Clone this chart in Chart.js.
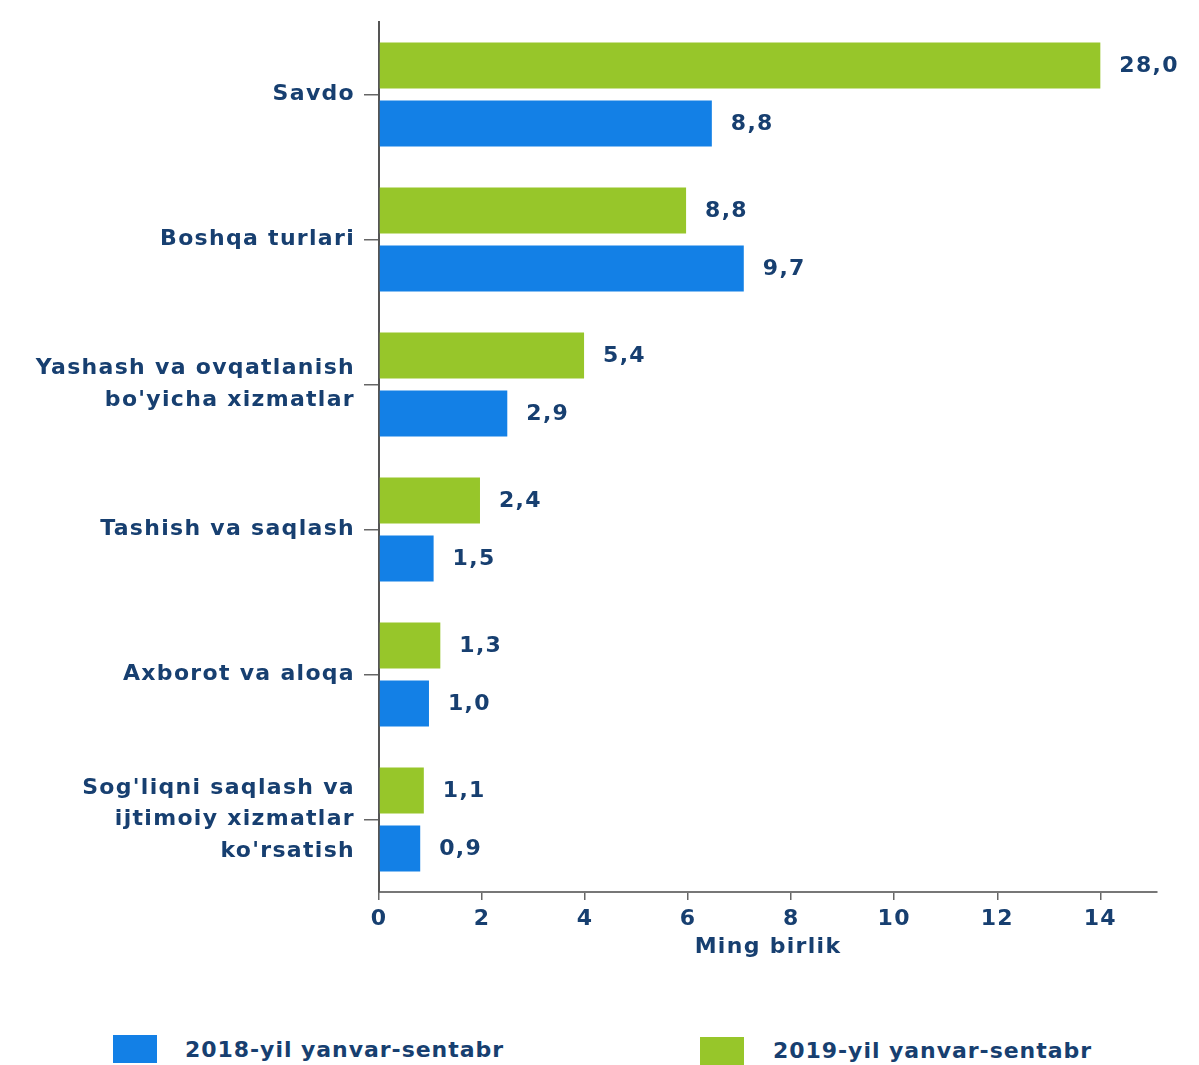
<!DOCTYPE html>
<html>
<head>
<meta charset="utf-8">
<script src="https://cdn.jsdelivr.net/npm/chart.js@4"></script>
<style>
  body { margin: 0; background: #fff; }
  #wrap { position: absolute; left: 0; top: 0; width: 1199px; height: 960px; }
  .box { position: absolute; width: 44px; height: 28px; }
  .lbl { position: absolute; font: bold 22px "DejaVu Sans"; letter-spacing: 0.95px;
         line-height: 28px; color: #173f70; white-space: nowrap; }
</style>
</head>
<body>
<div id="wrap"><canvas id="myChart"></canvas></div>
<div class="box" style="left:113px;top:1035px;background:#1380e6"></div>
<div class="lbl" style="left:185px;top:1036px">2018-yil yanvar-sentabr</div>
<div class="box" style="left:700px;top:1037px;background:#97c62a"></div>
<div class="lbl" style="left:773px;top:1037px">2019-yil yanvar-sentabr</div>
<script>
// categories (multi-line where the picture wraps)
const categories = [
  "Savdo",
  "Boshqa turlari",
  ["Yashash va ovqatlanish", "bo'yicha xizmatlar"],
  "Tashish va saqlash",
  "Axborot va aloqa",
  ["Sog'liqni saqlash va", "ijtimoiy xizmatlar", "ko'rsatish"]
];

// bar lengths as drawn on the axis
const bars2019 = [14.0, 5.96, 3.98, 1.96, 1.19, 0.87];
const bars2018 = [6.46, 7.08, 2.49, 1.06, 0.97, 0.80];

// value labels printed next to the bars
const labels2019 = ["28,0", "8,8", "5,4", "2,4", "1,3", "1,1"];
const labels2018 = ["8,8", "9,7", "2,9", "1,5", "1,0", "0,9"];

const xTicks = [0, 2, 4, 6, 8, 10, 12, 14];

const navy = '#173f70';

Chart.defaults.font.family = 'DejaVu Sans';
Chart.defaults.font.weight = 'bold';
Chart.defaults.font.size = 22;
Chart.defaults.color = navy;

// canvas text gets the same wide spacing as the original
const spacing = {
  id: 'spacing',
  beforeUpdate(chart) { chart.ctx.letterSpacing = '1.3px'; },
  beforeDraw(chart) { chart.ctx.letterSpacing = '1.3px'; }
};

const valueLabels = {
  id: 'valueLabels',
  afterDatasetsDraw(chart) {
    const ctx = chart.ctx;
    ctx.save();
    ctx.font = 'bold 22px "DejaVu Sans"';
    ctx.fillStyle = navy;
    ctx.textAlign = 'left';
    ctx.textBaseline = 'middle';
    chart.data.datasets.forEach((ds, di) => {
      chart.getDatasetMeta(di).data.forEach((bar, i) => {
        ctx.fillText(ds.valueText[i], bar.x + 19, bar.y + 1);
      });
    });
    ctx.restore();
  }
};

new Chart(document.getElementById('myChart'), {
  type: 'bar',
  data: {
    labels: categories,
    datasets: [
      {
        label: '2019-yil yanvar-sentabr',
        data: bars2019,
        valueText: labels2019,
        backgroundColor: '#97c62a',
        categoryPercentage: 0.8,
        barPercentage: 0.79
      },
      {
        label: '2018-yil yanvar-sentabr',
        data: bars2018,
        valueText: labels2018,
        backgroundColor: '#1380e6',
        categoryPercentage: 0.8,
        barPercentage: 0.79
      }
    ]
  },
  options: {
    indexAxis: 'y',
    responsive: true,
    maintainAspectRatio: false,
    animation: false,
    layout: { padding: { top: 22, right: 42, bottom: 0, left: 0 } },
    plugins: {
      legend: { display: false },
      tooltip: { enabled: false }
    },
    scales: {
      x: {
        min: 0,
        max: 15.1,
        afterBuildTicks: axis => { axis.ticks = xTicks.map(v => ({ value: v })); },
        afterFit: s => { s.height = 68; },
        ticks: { padding: 6, font: { lineHeight: 1.2 } },
        grid: { drawOnChartArea: false, tickLength: 8, color: '#666', lineWidth: 1.5 },
        border: { color: '#777', width: 2 },
        title: {
          display: true,
          text: 'Ming birlik',
          font: { lineHeight: 1.2 },
          padding: 0
        }
      },
      y: {
        afterFit: s => {
          s.width = 379;
          s.paddingTop = 0;
          s.paddingBottom = 0;
        },
        ticks: { padding: 9, font: { lineHeight: 1.43 } },
        grid: { drawOnChartArea: false, offset: false, tickLength: 15, color: '#666', lineWidth: 1.5 },
        border: { color: '#555', width: 2 }
      }
    }
  },
  plugins: [spacing, valueLabels]
});
</script>
</body>
</html>
